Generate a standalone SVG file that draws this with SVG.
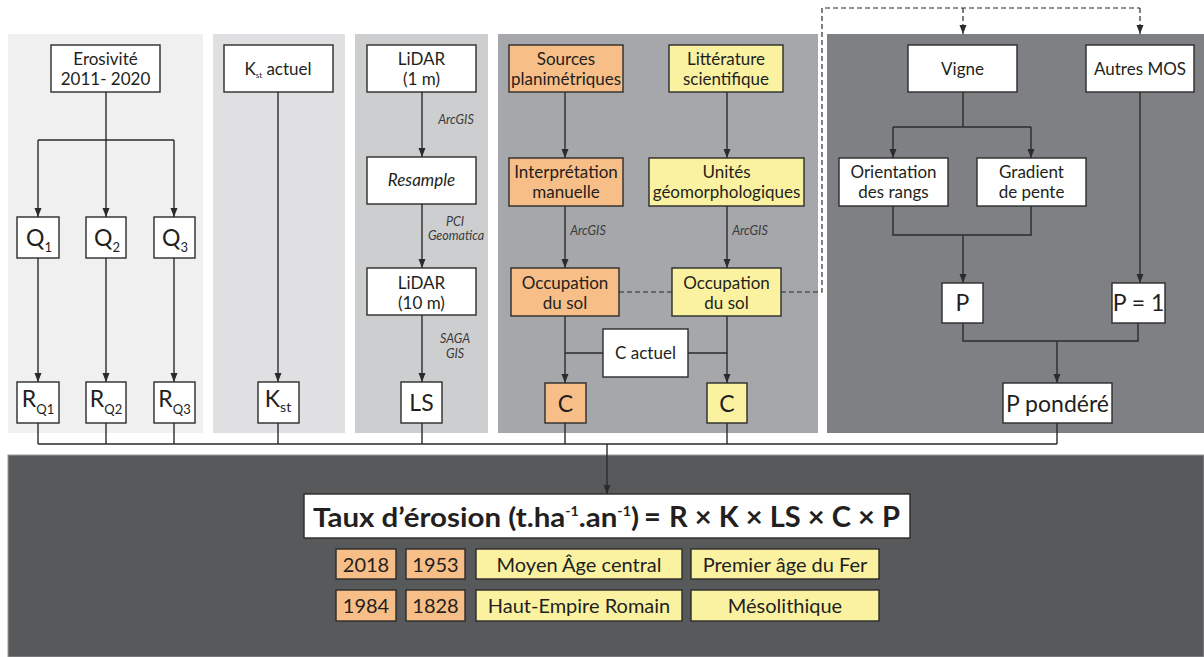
<svg xmlns="http://www.w3.org/2000/svg" width="1204" height="657" viewBox="0 0 1204 657">
<defs>
<marker id="ah" markerUnits="userSpaceOnUse" markerWidth="10" markerHeight="10" refX="9" refY="3.5" orient="auto">
<path d="M0,0 L9,3.5 L0,7 z" fill="#2b2b2b"/>
</marker>
<style>
.bx{fill:#fff;stroke:#2b2b2b;stroke-width:1.4}
.or{fill:#f8be87;stroke:#2b2b2b;stroke-width:1.4}
.ye{fill:#faf2a0;stroke:#2b2b2b;stroke-width:1.4}
.ln{fill:none;stroke:#2b2b2b;stroke-width:1.4}
.ar{fill:none;stroke:#2b2b2b;stroke-width:1.4;marker-end:url(#ah)}
.ds{fill:none;stroke:#2b2b2b;stroke-width:1.2;stroke-dasharray:5 3}
.dsa{fill:none;stroke:#2b2b2b;stroke-width:1.2;stroke-dasharray:5 3;marker-end:url(#ah)}
text{font-family:Lato,"Open Sans","Liberation Sans",sans-serif;fill:#231f20;text-anchor:middle}
.t{font-size:17px}
.big{font-size:23px}
.it{font-size:12.5px;font-style:italic;fill:#3a3a3a}
.lg{font-size:20px}
.fm{font-size:27px;font-weight:bold;text-anchor:start}
.fr{font-size:29px;font-weight:bold;text-anchor:start}
</style>
</defs>
<rect width="1204" height="657" fill="#fff"/>
<g id="panels">
<rect x="8" y="34" width="195" height="399" fill="#f0f0f1"/>
<rect x="213" y="34" width="132" height="399" fill="#e0e0e2"/>
<rect x="355" y="34" width="133" height="399" fill="#cdced0"/>
<rect x="498" y="34" width="320" height="399" fill="#a5a7aa"/>
<rect x="827" y="34" width="377" height="399" fill="#7f8083"/>
<rect x="8" y="455" width="1196" height="202" fill="#58595b" stroke="#9a9b9d" stroke-width="1"/>
</g>
<g id="connectors">
<path class="ln" d="M106,92 V140 M38,140 H174"/>
<path class="ar" d="M106,140 V217"/>
<path class="ar" d="M38,140 V217"/>
<path class="ar" d="M174,140 V217"/>
<path class="ar" d="M38,258 V382"/>
<path class="ar" d="M106,258 V382"/>
<path class="ar" d="M174,258 V382"/>
<path class="ar" d="M278,92 V382"/>
<path class="ar" d="M422,92 V157"/>
<path class="ar" d="M422,204 V268"/>
<path class="ar" d="M422,315 V382"/>
<path class="ar" d="M565,92 V158"/>
<path class="ar" d="M727,92 V158"/>
<path class="ar" d="M565,206 V268"/>
<path class="ar" d="M727,206 V268"/>
<path class="ar" d="M565,316 V383"/>
<path class="ar" d="M727,316 V383"/>
<path class="ln" d="M565,353 H603 M688,353 H727"/>
<path class="ds" d="M619,292 H672 M781,292 H822 V8 H1140"/>
<path class="dsa" d="M963,8 V34"/>
<path class="dsa" d="M1140,8 V34"/>
<path class="ln" d="M963,92 V127 M893,127 H1031"/>
<path class="ar" d="M893,127 V158"/>
<path class="ar" d="M1031,127 V158"/>
<path class="ln" d="M893,206 V235 H1031 V206"/>
<path class="ar" d="M963,235 V283"/>
<path class="ar" d="M1140,92 V283"/>
<path class="ln" d="M963,323 V341 H1138 V323"/>
<path class="ar" d="M1057,341 V383"/>
<path class="ln" d="M38,423 V444 M106,423 V444 M174,423 V444 M278,423 V444 M422,423 V444 M565,423 V444 M727,423 V444 M1057,423 V444 M38,444 H1057"/>
<path class="ar" d="M607,444 V494"/>
</g>
<g id="n-erosivite"><rect class="bx" x="51" y="45" width="109" height="47"/><text class="t" x="105.5" y="65">Erosivité</text><text class="t" x="105.5" y="85">2011- 2020</text></g>
<g id="n-q1"><rect class="bx" x="17" y="217" width="42" height="41"/><text class="big" x="39" y="246">Q<tspan font-size="13" dy="6">1</tspan></text></g>
<g id="n-q2"><rect class="bx" x="86" y="217" width="40" height="41"/><text class="big" x="107" y="246">Q<tspan font-size="13" dy="6">2</tspan></text></g>
<g id="n-q3"><rect class="bx" x="154" y="217" width="41" height="41"/><text class="big" x="175" y="246">Q<tspan font-size="13" dy="6">3</tspan></text></g>
<g id="n-rq1"><rect class="bx" x="17" y="382" width="42" height="41"/><text class="big" x="38" y="407">R<tspan font-size="13" dy="7">Q1</tspan></text></g>
<g id="n-rq2"><rect class="bx" x="86" y="382" width="40" height="41"/><text class="big" x="106" y="407">R<tspan font-size="13" dy="7">Q2</tspan></text></g>
<g id="n-rq3"><rect class="bx" x="154" y="382" width="41" height="41"/><text class="big" x="174.5" y="407">R<tspan font-size="13" dy="7">Q3</tspan></text></g>
<g id="n-kactuel"><rect class="bx" x="224" y="45" width="109" height="47"/><text class="t" x="278" y="75">K<tspan font-size="8" dy="3">st</tspan><tspan dy="-3"> actuel</tspan></text></g>
<g id="n-kst"><rect class="bx" x="258" y="382" width="41" height="41"/><text class="big" x="278" y="407">K<tspan font-size="14" dy="5">st</tspan></text></g>
<g id="n-lidar1"><rect class="bx" x="367" y="45" width="109" height="47"/><text class="t" x="421.5" y="65">LiDAR</text><text class="t" x="421.5" y="85">(1 m)</text></g>
<text class="it" x="456" y="124">ArcGIS</text>
<g id="n-resample"><rect class="bx" x="367" y="157" width="109" height="47"/><text class="t" x="421.5" y="186" font-style="italic">Resample</text></g>
<text class="it" x="455" y="226">PCI</text>
<text class="it" x="456" y="240">Geomatica</text>
<g id="n-lidar10"><rect class="bx" x="367" y="268" width="109" height="47"/><text class="t" x="421.5" y="289">LiDAR</text><text class="t" x="421.5" y="309">(10 m)</text></g>
<text class="it" x="455" y="343">SAGA</text>
<text class="it" x="455" y="358">GIS</text>
<g id="n-ls"><rect class="bx" x="401" y="382" width="41" height="41"/><text class="big" x="421.5" y="411">LS</text></g>
<g id="n-sources"><rect class="or" x="509" y="45" width="114" height="47"/><text class="t" x="566" y="65">Sources</text><text class="t" x="566" y="85">planimétriques</text></g>
<g id="n-litterature"><rect class="ye" x="669" y="45" width="114" height="47"/><text class="t" x="726" y="65">Littérature</text><text class="t" x="726" y="85">scientifique</text></g>
<g id="n-interp"><rect class="or" x="509" y="158" width="114" height="48"/><text class="t" x="566" y="178">Interprétation</text><text class="t" x="566" y="198">manuelle</text></g>
<g id="n-unites"><rect class="ye" x="649" y="158" width="155" height="48"/><text class="t" x="726.5" y="178">Unités</text><text class="t" x="726.5" y="198">géomorphologiques</text></g>
<text class="it" x="588" y="235">ArcGIS</text>
<text class="it" x="750" y="235">ArcGIS</text>
<g id="n-occ1"><rect class="or" x="511" y="268" width="108" height="48"/><text class="t" x="565" y="289">Occupation</text><text class="t" x="565" y="309">du sol</text></g>
<g id="n-occ2"><rect class="ye" x="672" y="268" width="109" height="48"/><text class="t" x="726.5" y="289">Occupation</text><text class="t" x="726.5" y="309">du sol</text></g>
<g id="n-cactuel"><rect class="bx" x="603" y="329" width="85" height="48"/><text class="t" x="645.5" y="359">C actuel</text></g>
<g id="n-c1"><rect class="or" x="545" y="383" width="41" height="40"/><text class="big" x="565.5" y="412">C</text></g>
<g id="n-c2"><rect class="ye" x="707" y="383" width="40" height="40"/><text class="big" x="727" y="412">C</text></g>
<g id="n-vigne"><rect class="bx" x="908" y="45" width="109" height="47"/><text class="t" x="962.5" y="75">Vigne</text></g>
<g id="n-autres"><rect class="bx" x="1086" y="45" width="108" height="47"/><text class="t" x="1140" y="75">Autres MOS</text></g>
<g id="n-orient"><rect class="bx" x="839" y="158" width="109" height="48"/><text class="t" x="893.5" y="178">Orientation</text><text class="t" x="893.5" y="198">des rangs</text></g>
<g id="n-gradient"><rect class="bx" x="977" y="158" width="109" height="48"/><text class="t" x="1031.5" y="178">Gradient</text><text class="t" x="1031.5" y="198">de pente</text></g>
<g id="n-p"><rect class="bx" x="942" y="283" width="41" height="40"/><text class="big" x="962.5" y="311">P</text></g>
<g id="n-p1"><rect class="bx" x="1112" y="283" width="53" height="40"/><text class="big" x="1138.5" y="311">P = 1</text></g>
<g id="n-ppondere"><rect class="bx" x="1003" y="383" width="109" height="40"/><text class="big" x="1057.5" y="412">P pondéré</text></g>
<g id="n-formula"><rect class="bx" x="304" y="494" width="606" height="44"/>
<text class="fm" x="313" y="527" textLength="326" lengthAdjust="spacingAndGlyphs">Taux d’érosion (t.ha<tspan font-size="13" dy="-11">-1</tspan><tspan dy="11">.an</tspan><tspan font-size="13" dy="-11">-1</tspan><tspan dy="11">)</tspan></text>
<text class="fr" x="644" y="527">=</text>
<text class="fr" x="669" y="527" textLength="231" lengthAdjust="spacingAndGlyphs">R × K × LS × C × P</text>
</g>
<g id="legend">
<rect class="or" x="336" y="549" width="60" height="30"/><text class="lg" x="366" y="572">2018</text>
<rect class="or" x="406" y="549" width="59" height="30"/><text class="lg" x="435.5" y="572">1953</text>
<rect class="ye" x="476" y="549" width="206" height="30"/><text class="lg" x="579" y="572">Moyen Âge central</text>
<rect class="ye" x="691" y="549" width="188" height="30"/><text class="lg" x="785" y="572">Premier âge du Fer</text>
<rect class="or" x="336" y="590" width="60" height="31"/><text class="lg" x="366" y="613">1984</text>
<rect class="or" x="406" y="590" width="59" height="31"/><text class="lg" x="435.5" y="613">1828</text>
<rect class="ye" x="476" y="590" width="206" height="31"/><text class="lg" x="579" y="613">Haut-Empire Romain</text>
<rect class="ye" x="691" y="590" width="188" height="31"/><text class="lg" x="785" y="613">Mésolithique</text>
</g>
</svg>
